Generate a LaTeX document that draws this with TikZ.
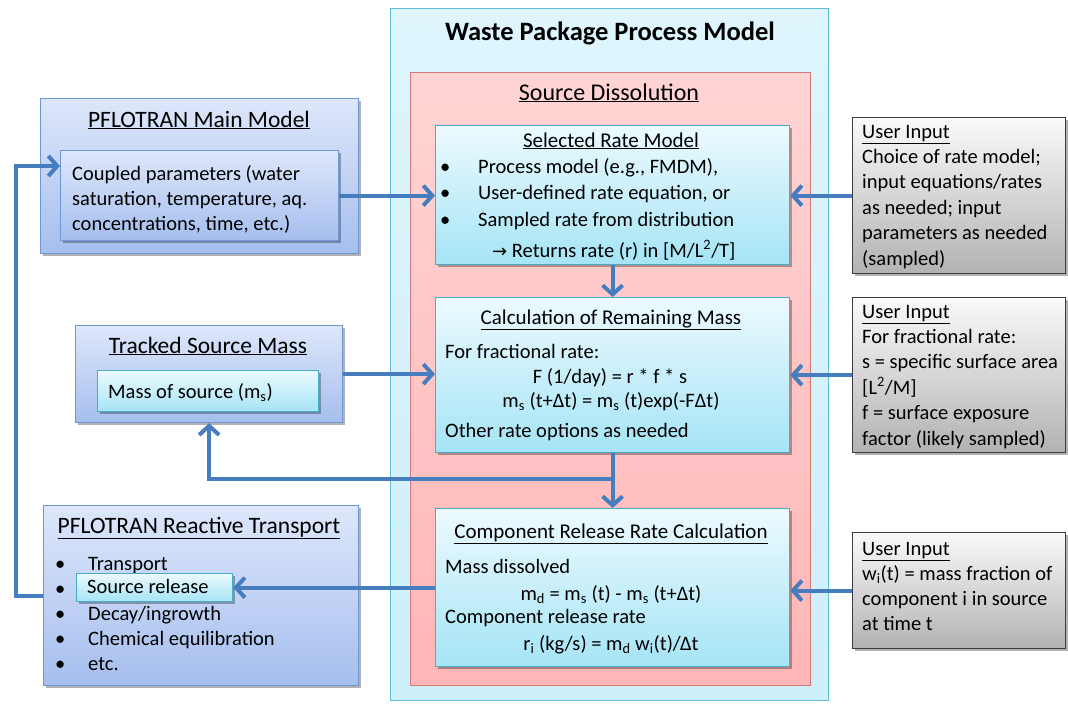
\documentclass[tikz,border=0pt]{standalone}
\usepackage{fontspec}
\setmainfont{Carlito}
\newfontfamily\symbfont{DejaVu Sans}
\usepackage{tikz}
\usetikzlibrary{arrows.meta,shadows}

\definecolor{flowblue}{RGB}{70,125,190}
\definecolor{wppline}{RGB}{95,190,215}
\definecolor{wpptop}{RGB}{222,245,252}
\definecolor{wppbot}{RGB}{205,239,250}
\definecolor{dissline}{RGB}{215,120,120}
\definecolor{disstop}{RGB}{255,212,212}
\definecolor{dissbot}{RGB}{255,182,182}
\definecolor{cyline}{RGB}{75,172,198}
\definecolor{cytop}{RGB}{236,250,254}
\definecolor{cybot}{RGB}{165,228,246}
\definecolor{blline}{RGB}{110,150,210}
\definecolor{bltop}{RGB}{222,231,251}
\definecolor{blbot}{RGB}{165,190,238}
\definecolor{grline}{RGB}{60,60,60}
\definecolor{grtop}{RGB}{250,250,250}
\definecolor{grbot}{RGB}{178,178,178}

\begin{document}
\begin{tikzpicture}[x=1pt, y=-1pt,
    box/.style={inner sep=0, anchor=north west, line width=1.2pt},
    shade/.style={drop shadow={shadow xshift=2.5pt, shadow yshift=-2.5pt, fill=black, opacity=0.3}},
    wppbox/.style={box, draw=wppline, top color=wpptop, bottom color=wppbot},
    dissbox/.style={box, draw=dissline, top color=disstop, bottom color=dissbot},
    cybox/.style={box, shade, draw=cyline, top color=cytop, bottom color=cybot},
    blbox/.style={box, shade, draw=blline, top color=bltop, bottom color=blbot},
    grbox/.style={box, shade, draw=grline, top color=grtop, bottom color=grbot},
    txt/.style={inner sep=0, anchor=base west, align=left, font=\fontsize{20.5}{25}\selectfont},
    mid/.style={inner sep=0, anchor=base, font=\fontsize{20.5}{25}\selectfont},
    boxtitle/.style={inner sep=0, anchor=base, font=\fontsize{21}{25}\selectfont},
    sidetitle/.style={inner sep=0, anchor=base, font=\fontsize{23.5}{28}\selectfont},
    flow/.style={line width=4pt, draw=flowblue, -{Straight Barb[length=9pt,width=20pt]}}]
    \useasboundingbox (0,0) rectangle (1068,704);

    % waste package process model
    \node[wppbox, minimum width=438pt, minimum height=692pt] (wpp) at (390,8) {};
    \node[inner sep=0, anchor=base, font=\bfseries\fontsize{26.5}{30}\selectfont] (wpptitle) at (610,40) {Waste Package Process Model};
    \node[dissbox, minimum width=400pt, minimum height=613pt] (diss) at (410,72) {};
    \node[inner sep=0, anchor=base, font=\fontsize{24}{28}\selectfont] (disstitle) at (609,100) {\underline{Source Dissolution}};

    % selected rate model (multi-line texts sit on their last baseline)
    \node[cybox, minimum width=354pt, minimum height=139pt] (rate) at (435,125) {};
    \node[boxtitle] (ratetitle) at (611,147) {\underline{Selected Rate Model}};
    \node[txt, font=\fontsize{20.5}{26.5}\selectfont] (ratelist) at (440,226)
        {\makebox[38pt][l]{\textbullet}Process model (e.g., FMDM),\\
         \makebox[38pt][l]{\textbullet}User-defined rate equation, or\\
         \makebox[38pt][l]{\textbullet}Sampled rate from distribution};
    \node[txt] (rateout) at (492,257) {{\symbfont\fontsize{18}{25}\selectfont →} Returns rate (r) in [M/L\textsuperscript{2}/T]};

    % remaining mass
    \node[cybox, minimum width=354pt, minimum height=155pt] (calc) at (435,297) {};
    \node[boxtitle] (calctitle) at (611,324) {\underline{Calculation of Remaining Mass}};
    \node[txt] (calca) at (445,358) {For fractional rate:};
    \node[mid] (calcb) at (610,383) {F (1/day) = r * f * s};
    \node[mid] (calcc) at (611,407) {m\textsubscript{s} (t+Δt) = m\textsubscript{s} (t)exp(-FΔt)};
    \node[txt] (calcd) at (445,437) {Other rate options as needed};

    % component release
    \node[cybox, minimum width=354pt, minimum height=158pt] (comp) at (435,508) {};
    \node[boxtitle] (comptitle) at (611,538) {\underline{Component Release Rate Calculation}};
    \node[txt] (compa) at (445,573) {Mass dissolved};
    \node[mid] (compb) at (611,600) {m\textsubscript{d} = m\textsubscript{s} (t) - m\textsubscript{s} (t+Δt)};
    \node[txt] (compc) at (445,623) {Component release rate};
    \node[mid] (compd) at (611,650) {r\textsubscript{i} (kg/s) = m\textsubscript{d} w\textsubscript{i}(t)/Δt};

    % pflotran main model
    \node[blbox, minimum width=318pt, minimum height=155pt] (mm) at (40,98) {};
    \node[sidetitle] (mmtitle) at (199,127) {\underline{PFLOTRAN Main Model}};
    \node[blbox, minimum width=278pt, minimum height=90pt] (mmin) at (60,150) {};
    \node[txt] (mmtext) at (72,230) {Coupled parameters (water\\saturation, temperature, aq.\\concentrations, time, etc.)};

    % tracked source mass
    \node[blbox, minimum width=267pt, minimum height=97pt] (tsm) at (75,325) {};
    \node[sidetitle] (tsmtitle) at (208,353) {\underline{Tracked Source Mass}};
    \node[cybox, minimum width=221pt, minimum height=41pt] (tsmin) at (97,370) {};
    \node[txt] (tsmtext) at (108,398) {Mass of source (m\textsubscript{s})};

    % pflotran reactive transport
    \node[blbox, minimum width=315pt, minimum height=180pt] (prt) at (43,505) {};
    \node[sidetitle] (prttitle) at (199,533) {\underline{PFLOTRAN Reactive Transport}};
    \node[txt] (prtlist) at (55,670)
        {\makebox[33pt][l]{\textbullet}Transport\\
         \makebox[33pt][l]{\textbullet}\\
         \makebox[33pt][l]{\textbullet}Decay/ingrowth\\
         \makebox[33pt][l]{\textbullet}Chemical equilibration\\
         \makebox[33pt][l]{\textbullet}etc.};
    \node[cybox, minimum width=156pt, minimum height=28pt] (srel) at (76,573) {};
    \node[txt] (sreltext) at (87,593) {Source release};

    % user inputs
    \node[grbox, minimum width=213pt, minimum height=156pt] (ui1) at (852,117) {};
    \node[txt, font=\fontsize{20.5}{25.4}\selectfont] (ui1text) at (862,265) {\underline{User Input}\\Choice of rate model;\\input equations/rates\\as needed; input\\parameters as needed\\(sampled)};
    \node[grbox, minimum width=213pt, minimum height=155pt] (ui2) at (852,297) {};
    \node[txt, font=\fontsize{20.5}{25.4}\selectfont] (ui2text) at (862,445) {\underline{User Input}\\For fractional rate:\\s = specific surface area\\{[}L\textsuperscript{2}/M]\\f = surface exposure\\factor (likely sampled)};
    \node[grbox, minimum width=213pt, minimum height=116pt] (ui3) at (852,532) {};
    \node[txt] (ui3text) at (862,630) {\underline{User Input}\\w\textsubscript{i}(t) = mass fraction of\\component i in source\\at time t};

    % connectors
    \coordinate (split) at (calc.south |- 0,479);
    \coordinate (loopin) at (mmin.west |- 0,166);
    \draw[flow] (mmin.east) -- (mmin.east -| rate.west);
    \draw[flow] (ui1.west) -- (ui1.west -| rate.east);
    \draw[flow] (rate.south) -- (calc.north);
    \draw[flow] (tsm.east) -- (tsm.east -| calc.west);
    \draw[flow] (ui2.west) -- (ui2.west -| calc.east);
    \draw[flow] (calc.south) -- (comp.north);
    \draw[flow] (split) -| (tsm.south);
    \draw[flow] (ui3.west) -- (ui3.west -| comp.east);
    \draw[flow] (comp.west) -- (srel.east);
    \draw[flow] (prt.west) -- ++(-27,0) |- (loopin);
\end{tikzpicture}
\end{document}
